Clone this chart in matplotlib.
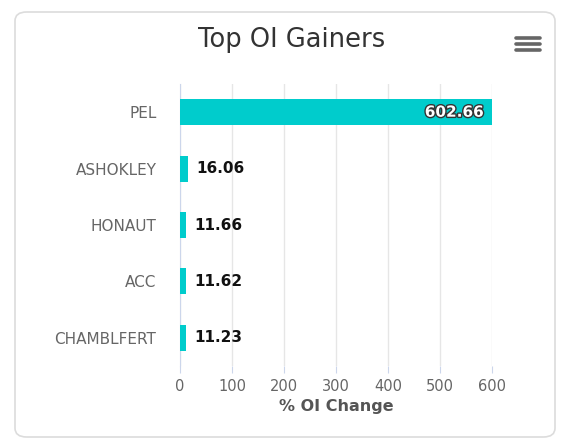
import matplotlib
matplotlib.use("Agg")
import matplotlib.pyplot as plt
import matplotlib.patheffects as pe
from matplotlib.patches import FancyBboxPatch
from matplotlib.lines import Line2D

plt.rcParams["font.family"] = ["DejaVu Sans"]

symbols = ["PEL", "ASHOKLEY", "HONAUT", "ACC", "CHAMBLFERT"]
oi_change = [602.66, 16.06, 11.66, 11.62, 11.23]
xticks = [0, 100, 200, 300, 400, 500, 600]

W, H = 581, 444
fig = plt.figure(figsize=(W / 100, H / 100), dpi=100)
fig.patch.set_facecolor("white")

# card border
card = FancyBboxPatch((15 / W, 1 - 437 / H), 540 / W, 425 / H,
                      boxstyle="round,pad=0,rounding_size=0.02",
                      transform=fig.transFigure, facecolor="white",
                      edgecolor="#dcdcdc", linewidth=1.2, zorder=-5)
fig.add_artist(card)

ax = fig.add_axes([180 / W, 1 - 366 / H, 312 / W, 282 / H])
ax.set_facecolor("none")
ax.set_zorder(2)
ypos = list(range(len(symbols)))
ax.barh(ypos, oi_change, height=0.46, color="#00cccc", zorder=3)
ax.set_ylim(len(symbols) - 0.5, -0.5)
ax.set_xlim(0, 600)
ax.set_yticks(ypos)
ax.set_yticklabels(symbols, color="#666666", fontsize=11)
ax.set_xticks(xticks)
ax.set_xticklabels([str(t) for t in xticks], color="#666666", fontsize=10.5)
ax.tick_params(axis="y", length=0, pad=17)
ax.tick_params(axis="x", length=5, color="#ccd6eb", pad=4)
ax.grid(axis="x", color="#e6e6e6", linewidth=1, zorder=0)
ax.set_axisbelow(True)
for s in ["top", "right", "bottom"]:
    ax.spines[s].set_visible(False)
ax.spines["left"].set_color("#ccd6eb")
ax.set_xlabel("% OI Change", fontsize=11.5, color="#555555", fontweight="bold", labelpad=4)

for i, v in enumerate(oi_change):
    if v > 300:
        ax.text(v - 18, i, f"{v:.2f}", ha="right", va="center", fontsize=11,
                fontweight="bold", color="white", zorder=4,
                path_effects=[pe.withStroke(linewidth=2, foreground="#333333")])
    else:
        ax.text(v + 16, i, f"{v:.2f}", ha="left", va="center", fontsize=11,
                fontweight="bold", color="#111111", zorder=4)

fig.text(292 / W, 1 - 40 / H, "Top OI Gainers", ha="center", va="center",
         fontsize=18.5, color="#333333")

# menu icon
for dy in (38, 44, 50):
    fig.add_artist(Line2D([516 / W, 540 / W], [1 - dy / H, 1 - dy / H],
                          transform=fig.transFigure, color="#666666",
                          linewidth=2.6, solid_capstyle="round"))

fig.savefig("out.png", dpi=100, facecolor="white")
